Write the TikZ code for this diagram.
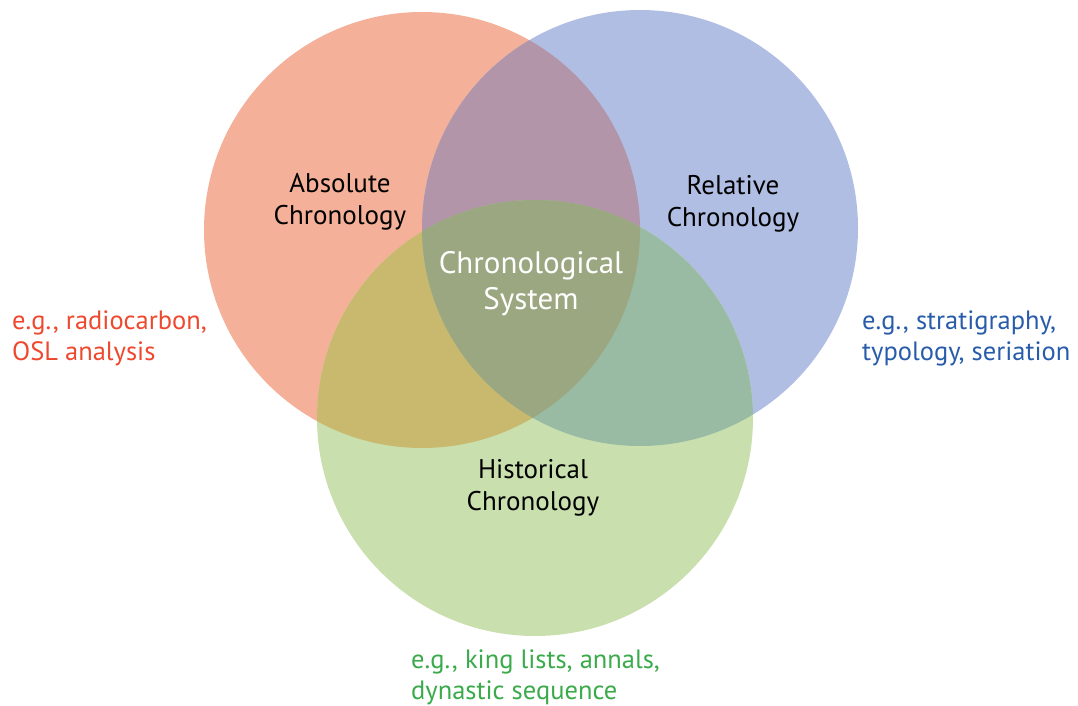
\documentclass[tikz,border=0pt]{standalone}
\usepackage{fontspec}
\setmainfont{PT Sans}
\definecolor{cR}{RGB}{244,176,152}
\definecolor{cB}{RGB}{177,190,227}
\definecolor{cG}{RGB}{201,223,174}
\definecolor{cRB}{RGB}{178,149,168}
\definecolor{cRG}{RGB}{200,185,110}
\definecolor{cBG}{RGB}{153,187,164}
\definecolor{cRBG}{RGB}{155,167,128}
\definecolor{tR}{RGB}{238,72,46}
\definecolor{tB}{RGB}{40,92,170}
\definecolor{tG}{RGB}{58,170,74}
\begin{document}
\begin{tikzpicture}[x=1pt,y=-1pt,
  lbl/.style={font=\fontsize{27}{32}\selectfont, align=center, text=black, inner sep=0pt},
  ex/.style={font=\fontsize{26.5}{31}\selectfont, align=left, anchor=north west, inner sep=0pt}]
\useasboundingbox (0,0) rectangle (1078,706);
\def\cRed{(422,230) circle[radius=218pt]}
\def\cBlue{(640,228) circle[radius=218pt]}
\def\cGreen{(535,418) circle[radius=218pt]}
\fill[cR] \cRed;
\fill[cB] \cBlue;
\fill[cG] \cGreen;
\begin{scope}\clip \cRed; \fill[cRB] \cBlue; \end{scope}
\begin{scope}\clip \cRed; \fill[cRG] \cGreen; \end{scope}
\begin{scope}\clip \cBlue; \fill[cBG] \cGreen; \end{scope}
\begin{scope}\clip \cRed; \clip \cBlue; \fill[cRBG] \cGreen; \end{scope}
\node[lbl] (abs) at (340,202) {Absolute\\Chronology};
\node[lbl] (rel) at (733,204) {Relative\\Chronology};
\node[lbl] (his) at (533,488) {Historical\\Chronology};
\node[lbl, text=white, font=\fontsize{31}{36}\selectfont] (sys) at (531,284) {Chronological\\System};
\node[ex, text=tR] (exR) at (12,311) {e.g., radiocarbon,\\OSL analysis};
\node[ex, text=tB] (exB) at (862,311) {e.g., stratigraphy,\\typology, seriation};
\node[ex, text=tG] (exG) at (411,650) {e.g., king lists, annals,\\dynastic sequence};
\end{tikzpicture}
\end{document}
